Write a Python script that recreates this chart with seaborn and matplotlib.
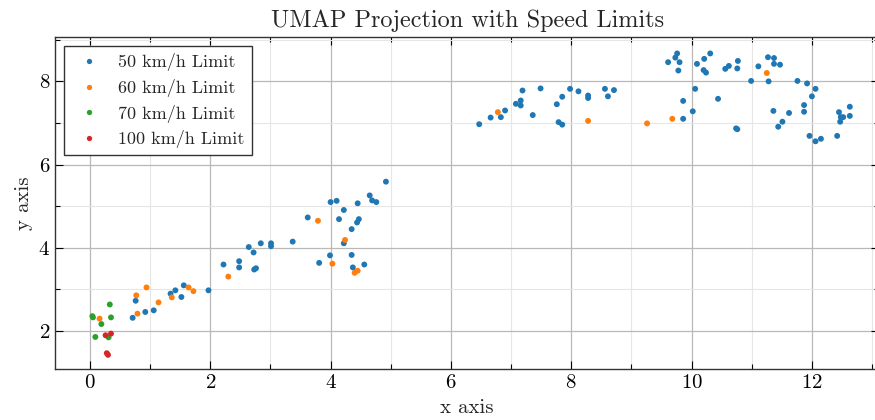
import matplotlib
matplotlib.use("Agg")
import matplotlib.pyplot as plt
import seaborn as sns
import pandas as pd
from matplotlib.ticker import MultipleLocator

categories = ["50 km/h Limit", "60 km/h Limit", "70 km/h Limit", "100 km/h Limit"]

x50 = [0.71, 0.76, 0.92, 1.06, 1.34, 1.42, 1.56, 1.52, 1.97,
       2.22, 2.48, 2.48, 2.64, 2.72, 2.73, 2.76, 2.84, 3.01, 3.01, 3.37, 3.62, 3.81, 3.99,
       4.00, 4.10, 4.14, 4.22, 4.22, 4.35, 4.35, 4.37, 4.44, 4.47, 4.45, 4.56, 4.65, 4.69, 4.76, 4.92,
       6.47, 6.66, 6.83, 6.90, 7.08, 7.16, 7.16, 7.19, 7.36, 7.49, 7.76, 7.85, 7.79, 7.85, 7.98,
       8.12, 8.28, 8.28, 8.56, 8.61, 8.71,
       9.61, 9.73, 9.76, 9.80, 9.78, 10.09, 10.21, 10.31, 10.20, 10.24, 10.56, 10.62, 10.77, 10.76,
       11.11, 11.27, 11.37, 11.37, 11.47, 10.99, 11.28, 11.76, 11.92, 12.06, 10.06, 9.86, 10.44,
       12.00, 11.87, 10.02, 9.86, 11.36, 11.62, 11.87, 11.51, 11.44, 10.74, 10.76, 11.96, 12.06,
       12.15, 12.42, 12.45, 12.63, 12.48, 12.52, 12.47, 12.63]
y50 = [2.32, 2.73, 2.46, 2.50, 2.90, 2.98, 3.10, 2.82, 2.98,
       3.60, 3.68, 3.53, 4.02, 3.89, 3.48, 3.51, 4.11, 4.11, 4.04, 4.15, 4.73, 3.64, 3.82,
       5.10, 5.13, 4.69, 4.91, 4.11, 4.45, 3.83, 3.53, 4.61, 4.69, 5.07, 3.60, 5.26, 5.14, 5.10, 5.59,
       6.97, 7.13, 7.14, 7.30, 7.46, 7.54, 7.42, 7.78, 7.19, 7.83, 7.45, 7.63, 7.02, 6.96, 7.82,
       7.76, 7.66, 7.60, 7.82, 7.64, 7.79,
       8.46, 8.57, 8.67, 8.46, 8.26, 8.42, 8.54, 8.67, 8.27, 8.21, 8.30, 8.37, 8.49, 8.31,
       8.36, 8.58, 8.56, 8.42, 8.40, 8.01, 8.00, 8.01, 7.95, 7.82, 7.82, 7.53, 7.58,
       7.64, 7.43, 7.28, 7.10, 7.29, 7.24, 7.27, 7.03, 6.91, 6.87, 6.85, 6.69, 6.56,
       6.62, 6.69, 7.26, 7.39, 7.14, 7.14, 7.03, 7.17]

x60 = [0.16, 0.79, 0.77, 0.94, 1.14, 1.36, 1.64, 1.72, 2.30, 3.79, 4.24, 4.03, 4.40, 4.45,
       6.78, 8.28, 9.26, 9.68, 11.25]
y60 = [2.30, 2.42, 2.86, 3.05, 2.69, 2.81, 3.05, 2.96, 3.31, 4.65, 4.19, 3.62, 3.40, 3.45,
       7.26, 7.05, 6.99, 7.10, 8.20]

x70 = [0.04, 0.05, 0.33, 0.35, 0.19, 0.09, 0.31]
y70 = [2.36, 2.33, 2.64, 2.33, 2.17, 1.86, 1.85]

x100 = [0.26, 0.35, 0.28, 0.30]
y100 = [1.90, 1.94, 1.47, 1.43]

xs = [x50, x60, x70, x100]
ys = [y50, y60, y70, y100]
rows = []
for cat, xv, yv in zip(categories, xs, ys):
    for a, b in zip(xv, yv):
        rows.append({"x": a, "y": b, "limit": cat})
df = pd.DataFrame(rows)

sns.set_theme(style="ticks")
plt.rcParams["font.family"] = ["cmr10", "DejaVu Serif"]
plt.rcParams["mathtext.fontset"] = "cm"
plt.rcParams["axes.formatter.use_mathtext"] = True
plt.rcParams["axes.unicode_minus"] = False

fig = plt.figure(figsize=(8.75, 4.2), dpi=100)
ax = fig.add_axes([0.0629, 0.1214, 0.942, 0.790])

palette = ["#1f77b4", "#ff7f0e", "#2ca02c", "#d62728"]
sns.scatterplot(data=df, x="x", y="y", hue="limit", hue_order=categories,
                palette=palette, s=18, linewidth=0, ax=ax, zorder=3)

ax.set_xlim(-0.58, 13.12)
ax.set_ylim(1.09, 9.06)
ax.xaxis.set_major_locator(MultipleLocator(2))
ax.xaxis.set_minor_locator(MultipleLocator(1))
ax.yaxis.set_major_locator(MultipleLocator(2))
ax.yaxis.set_minor_locator(MultipleLocator(1))
ax.grid(which="major", color="#b8b8b8", linewidth=0.9)
ax.grid(which="minor", color="#e6e6e6", linewidth=0.8)
ax.set_axisbelow(True)
ax.tick_params(which="both", direction="in", top=True, right=True, colors="black",
               labelsize=15, width=0.8)
ax.tick_params(which="major", length=6)
ax.tick_params(which="minor", length=3.5)
for sp in ax.spines.values():
    sp.set_color("#333333")
    sp.set_linewidth(1.0)

ax.set_title("UMAP Projection with Speed Limits", fontsize=17.5, pad=7)
ax.set_xlabel("x axis", fontsize=15, labelpad=5)
ax.set_ylabel("y axis", fontsize=15, labelpad=4)

leg = ax.legend(loc="upper left", fontsize=13, frameon=True, fancybox=False,
                edgecolor="#333333", framealpha=1, markerscale=0.9,
                borderaxespad=0.5, handletextpad=0.6, labelspacing=0.42,
                borderpad=0.4)
leg.get_frame().set_linewidth(1.0)

fig.savefig("out.png", dpi=100)
